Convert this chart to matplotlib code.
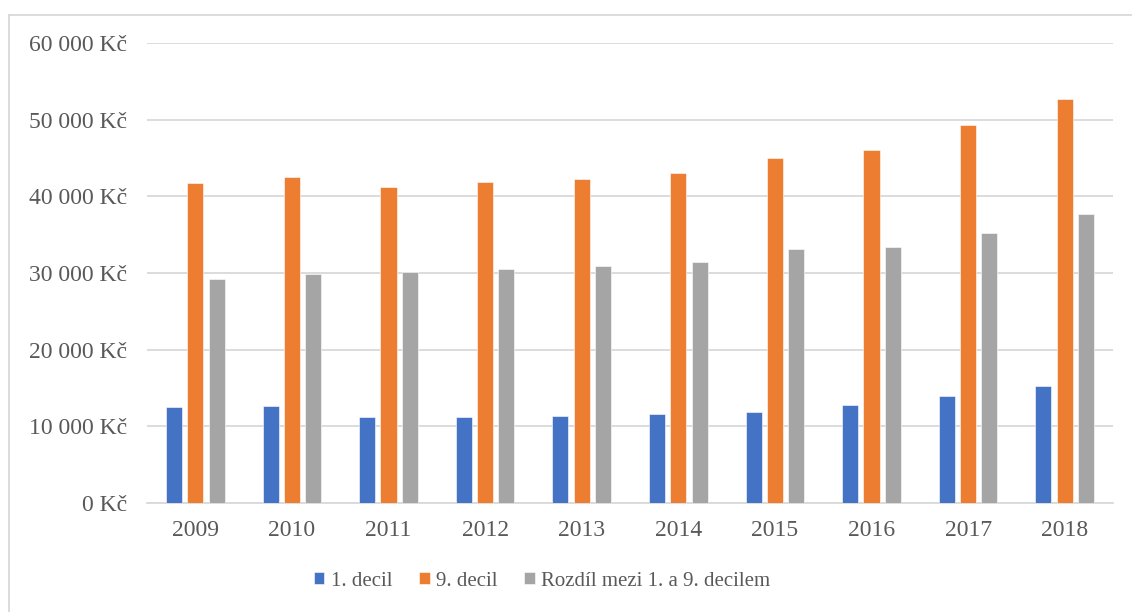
import numpy as np
import matplotlib
matplotlib.use('Agg')
import matplotlib.pyplot as plt
from matplotlib.lines import Line2D
from matplotlib.ticker import FuncFormatter

years = ['2009', '2010', '2011', '2012', '2013', '2014', '2015', '2016', '2017', '2018']
decil_1 = [12530, 12620, 11190, 11230, 11410, 11670, 11880, 12750, 14020, 15200]
decil_9 = [41700, 42520, 41250, 41830, 42300, 43080, 45000, 46080, 49270, 52740]
rozdil = [29240, 29900, 30080, 30550, 30940, 31460, 33080, 33380, 35210, 37650]
series_names = ['1. decil', '9. decil', 'Rozdíl mezi 1. a 9. decilem']

colors = ['#4472C4', '#ED7D31', '#A5A5A5']
text_color = '#595959'
grid_color = '#D9D9D9'

plt.rcParams['font.family'] = ['Liberation Serif', 'DejaVu Serif']

W, H = 1132, 612
fig = plt.figure(figsize=(W / 100, H / 100), dpi=100)
ax = fig.add_axes([147 / W, 1 - 503 / H, (1113 - 147) / W, (503 - 43) / H])

x = np.arange(len(years))
bar_w = 0.166
step = 0.22
for i, (vals, name) in enumerate(zip([decil_1, decil_9, rozdil], series_names)):
    ax.bar(x + (i - 1) * step, vals, width=bar_w, color=colors[i], label=name,
           edgecolor='white', linewidth=0.4, zorder=3)

ax.set_xlim(-0.5, len(years) - 0.5)
ax.set_ylim(0, 60000)
ax.set_yticks(np.arange(0, 60001, 10000))
ax.yaxis.set_major_formatter(FuncFormatter(lambda v, p: f'{int(v):,}'.replace(',', ' ') + ' Kč'))
ax.set_xticks(x)
ax.set_xticklabels(years)
ax.grid(axis='y', color=grid_color, linewidth=1.3, zorder=0)
ax.tick_params(axis='both', length=0, labelsize=17, colors=text_color)
ax.tick_params(axis='y', pad=14.5)
ax.tick_params(axis='x', pad=12)
for side in ['top', 'right', 'left']:
    ax.spines[side].set_visible(False)
ax.spines['bottom'].set_color(grid_color)
ax.spines['bottom'].set_linewidth(1.3)

leg = fig.legend(loc='center', bbox_to_anchor=(542 / W, 1 - 581 / H), ncol=3, frameon=False,
                 fontsize=15, handlelength=0.5, handleheight=0.5, handletextpad=0.3,
                 columnspacing=1.3)
for t in leg.get_texts():
    t.set_color(text_color)

# outer chart frame
fig.add_artist(Line2D([8.5 / W, 8.5 / W], [0, 1 - 14.5 / H], color=grid_color, linewidth=1.3))
fig.add_artist(Line2D([8.5 / W, 1], [1 - 14.5 / H, 1 - 14.5 / H], color=grid_color, linewidth=1.3))

fig.savefig('out.png', dpi=100)
